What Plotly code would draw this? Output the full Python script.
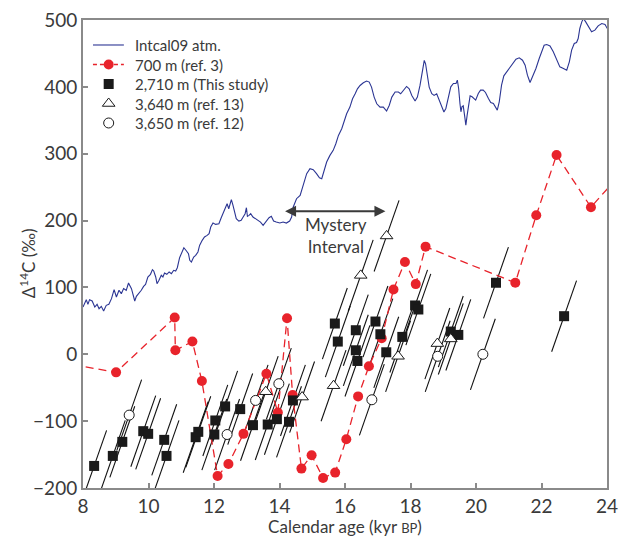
import numpy as np
import plotly.graph_objects as go

# IntCal09 atmospheric Δ14C (calendar age in kyr BP, Δ14C in ‰)
intcal_age = [8.00, 8.10, 8.15, 8.20, 8.28, 8.36, 8.43, 8.49, 8.56, 8.63, 8.71, 8.79, 8.87, 8.95,
              9.02, 9.10, 9.17, 9.24, 9.32, 9.39, 9.48, 9.53, 9.58, 9.63, 9.71, 9.78, 9.85, 9.91,
              9.98, 10.06, 10.12, 10.16, 10.22, 10.26, 10.32, 10.39, 10.44, 10.49, 10.56, 10.63,
              10.70, 10.77, 10.83, 10.88, 10.95, 11.03, 11.08, 11.16, 11.22, 11.26, 11.31, 11.38,
              11.44, 11.51, 11.56, 11.64, 11.71, 11.79, 11.85, 11.90, 11.97, 12.05, 12.15, 12.22,
              12.27, 12.36, 12.40, 12.45, 12.50, 12.53, 12.58, 12.63, 12.68, 12.76, 12.83, 12.89,
              12.95, 12.99, 13.02, 13.07, 13.12, 13.19, 13.27, 13.34, 13.42, 13.50, 13.55, 13.60,
              13.68, 13.75, 13.82, 13.90, 14.01, 14.11, 14.21, 14.31, 14.37, 14.42, 14.52, 14.63,
              14.73, 14.83, 14.93, 15.03, 15.13, 15.22, 15.29, 15.36, 15.44, 15.54, 15.64, 15.72,
              15.80, 15.90, 15.95, 16.05, 16.15, 16.23, 16.31, 16.38, 16.46, 16.56, 16.66, 16.74,
              16.81, 16.89, 16.97, 17.07, 17.17, 17.27, 17.35, 17.43, 17.53, 17.63, 17.70, 17.78,
              17.88, 17.96, 18.04, 18.14, 18.21, 18.29, 18.37, 18.42, 18.46, 18.51, 18.57, 18.65,
              18.72, 18.80, 18.88, 18.95, 19.02, 19.08, 19.15, 19.23, 19.31, 19.39, 19.43, 19.47,
              19.51, 19.54, 19.57, 19.61, 19.65, 19.69, 19.73, 19.78, 19.82, 19.88, 19.94, 19.99,
              20.07, 20.14, 20.22, 20.29, 20.38, 20.45, 20.53, 20.58, 20.65, 20.71, 20.78, 20.85,
              20.94, 21.04, 21.14, 21.22, 21.32, 21.42, 21.50, 21.57, 21.65, 21.73, 21.83, 21.93,
              22.00, 22.08, 22.16, 22.26, 22.36, 22.46, 22.56, 22.67, 22.77, 22.85, 22.92, 23.00,
              23.07, 23.12, 23.17, 23.23, 23.28, 23.35, 23.43, 23.53, 23.63, 23.73, 23.84, 23.94,
              24.02, 24.09]
intcal_d14c = [70.7, 81.7, 74.7, 81.7, 79.7, 70.7, 74.7, 68.2, 71.7, 64.8, 73.2, 74.7, 83.2, 96.7,
               85.7, 95.7, 90.7, 98.2, 95.7, 106.6, 98.2, 90.7, 79.7, 86.7, 90.7, 95.7, 101.6, 104.6,
               115.6, 119.6, 126.6, 124.6, 115.6, 105.6, 110.6, 118.1, 115.6, 121.6, 119.6, 123.1,
               120.6, 125.6, 124.6, 129.5, 144.5, 155.5, 159.4, 154.5, 150.5, 140.5, 138.0, 145.5,
               148.0, 153.0, 162.9, 170.4, 175.4, 177.9, 180.4, 190.3, 196.3, 194.3, 195.3, 204.3,
               210.3, 220.2, 225.2, 217.7, 225.2, 231.2, 222.7, 210.3, 202.8, 199.3, 200.3, 205.3,
               210.3, 219.2, 206.3, 207.8, 210.3, 205.3, 202.8, 200.3, 197.8, 192.8, 196.3, 200.3,
               204.3, 206.3, 199.3, 197.8, 196.3, 197.8, 196.3, 199.3, 205.3, 220.3, 232.7, 237.7,
               255.1, 270.1, 277.6, 276.1, 270.1, 264.1, 262.6, 275.1, 287.5, 297.5, 305.0, 314.9,
               327.4, 337.4, 344.8, 359.8, 369.7, 382.2, 389.7, 397.1, 402.1, 406.1, 408.6, 407.1,
               399.6, 384.7, 374.7, 369.7, 369.7, 363.8, 372.2, 384.7, 392.2, 392.2, 389.7, 394.7,
               400.6, 397.1, 387.2, 378.7, 384.7, 402.1, 424.6, 439.5, 434.5, 414.6, 399.6, 389.7,
               387.2, 389.7, 379.7, 369.7, 362.3, 367.7, 385.1, 400.1, 405.0, 405.0, 410.0, 397.6,
               375.1, 362.7, 370.2, 371.6, 357.7, 342.7, 357.7, 375.1, 386.6, 385.1, 381.6, 380.1,
               390.1, 395.1, 395.1, 391.6, 382.6, 376.6, 375.1, 370.2, 365.2, 377.6, 402.6, 416.5,
               422.5, 430.0, 437.4, 441.4, 443.4, 439.9, 432.4, 417.5, 406.5, 415.0, 427.5, 442.4,
               452.4, 462.3, 463.3, 461.3, 452.4, 439.9, 429.9, 427.5, 424.9, 437.4, 454.9, 464.8,
               466.3, 472.3, 487.3, 497.2, 502.2, 497.2, 489.7, 482.3, 484.8, 491.2, 494.7, 493.2,
               486.3, 482.3]

# 700 m record (ref. 3)
m700_age = [7.3, 9.01, 10.80, 10.82, 11.34, 11.63, 12.11, 12.44, 12.90, 13.60, 13.95, 14.23, 14.40,
            14.67, 14.98, 15.33, 15.70, 16.04, 16.40, 16.73, 17.12, 17.48, 17.83, 18.16, 18.46,
            21.20, 21.84, 22.46, 23.51, 24.6]
m700_d14c = [-12, -27, 55, 6, 19, -40, -182, -164, -119, -29, -87, 54, -61,
             -171, -151, -185, -177, -127, -63, -18, 24, 97, 138, 105, 161,
             107, 208, 298, 220, 280]

# 2,710 m record (this study)
m2710_age = [8.34, 8.91, 9.20, 9.84, 9.99, 10.48, 10.55, 11.44, 11.52, 12.01, 12.04, 12.34,
             12.80, 13.19, 13.64, 13.92, 14.29, 14.41, 15.69, 15.78, 16.33, 16.33, 16.38,
             16.93, 17.08, 17.26, 17.75, 18.14, 18.24, 19.23, 19.46, 20.61, 22.69]
m2710_d14c = [-167, -152, -131, -115, -119, -128, -152, -124, -116, -120, -99, -78,
              -82, -106, -105, -97, -101, -69, 46, 19, 36, 6, -10,
              49, 30, 3, 26, 73, 67, 34, 29, 107, 57]

# 3,640 m record (ref. 13)
m3640_age = [13.58, 14.69, 15.65, 16.48, 17.27, 17.62, 18.82, 19.23]
m3640_d14c = [-56, -64, -47, 118, 177, -3, 16, 23]

# 3,650 m record (ref. 12)
m3650_age = [9.41, 12.40, 13.27, 13.98, 16.82, 18.83, 20.21]
m3650_d14c = [-91, -120, -69, -44, -68, -3, 0]

series_names = ["Intcal09 atm.", "700 m (ref. 3)", "2,710 m (This study)",
                "3,640 m (ref. 13)", "3,650 m (ref. 12)"]

x_ticks = [8, 10, 12, 14, 16, 18, 20, 22, 24]
y_ticks = [-200, -100, 0, 100, 200, 300, 400, 500]
y_tick_text = ["\u2212200", "\u2212100", "0", "100", "200", "300", "400", "500"]

# Lines of constant radiocarbon age through each benthic point
TRAJ_SLOPE = 140.0   # ‰ per kyr
TRAJ_HALF = 0.38     # kyr

def trajectories(ages, vals):
    xs, ys = [], []
    for a, v in zip(ages, vals):
        xs += [a - TRAJ_HALF, a + TRAJ_HALF, None]
        ys += [v - TRAJ_SLOPE * TRAJ_HALF, v + TRAJ_SLOPE * TRAJ_HALF, None]
    return xs, ys

tx, ty = [], []
for ages, vals in [(m2710_age, m2710_d14c), (m3640_age, m3640_d14c), (m3650_age, m3650_d14c)]:
    a, b = trajectories(ages, vals)
    tx += a
    ty += b

FONT = "Lato"
AXIS_GREY = "#8a8a8a"
TEXT = "#3a3a3a"
BLUE = "#2b3593"
RED = "#e8232b"
INK = "#1a1a1a"

intcal_line = dict(color=BLUE, width=1.1)
red_line = dict(color=RED, width=1.3, dash="8px,5px")
red_marker = dict(symbol="circle", size=10, color=RED)
square_marker = dict(symbol="square", size=10, color=INK)
tri_marker = dict(symbol="triangle-up", size=11, color="white", line=dict(color=INK, width=1))
circ_marker = dict(symbol="circle", size=10, color="white", line=dict(color=INK, width=1))

fig = go.Figure()

fig.add_trace(go.Scatter(x=intcal_age, y=intcal_d14c, mode="lines",
                         name=series_names[0], line=intcal_line))
fig.add_trace(go.Scatter(x=tx, y=ty, mode="lines", hoverinfo="skip",
                         line=dict(color="#111111", width=1.1)))
fig.add_trace(go.Scatter(x=m700_age, y=m700_d14c, mode="lines+markers",
                         name=series_names[1], line=red_line, marker=red_marker))
fig.add_trace(go.Scatter(x=m2710_age, y=m2710_d14c, mode="markers",
                         name=series_names[2], marker=square_marker))
fig.add_trace(go.Scatter(x=m3640_age, y=m3640_d14c, mode="markers",
                         name=series_names[3], marker=tri_marker))
fig.add_trace(go.Scatter(x=m3650_age, y=m3650_d14c, mode="markers",
                         name=series_names[4], marker=circ_marker))

# Compact key in the upper-left corner, drawn on an overlay axis spanning [0, 1]
KEY_FONT = 15
KEY_X0, KEY_X1, KEY_XM, KEY_TX = 0.019, 0.078, 0.049, 0.097
KEY_TOP, KEY_STEP = 0.9466, KEY_FONT * 1.3 / 468
key_rows = [KEY_TOP - i * KEY_STEP for i in range(len(series_names))]
fig.add_trace(go.Scatter(x=[KEY_X0, KEY_X1], y=[key_rows[0]] * 2, mode="lines",
                         line=intcal_line, xaxis="x2", yaxis="y2", hoverinfo="skip"))
fig.add_trace(go.Scatter(x=[KEY_X0, KEY_X1], y=[key_rows[1]] * 2, mode="lines",
                         line=dict(color=RED, width=1.3, dash="4px,3px"),
                         xaxis="x2", yaxis="y2", hoverinfo="skip"))
for row, mk in zip(key_rows[1:], [red_marker, square_marker, tri_marker, circ_marker]):
    fig.add_trace(go.Scatter(x=[KEY_XM], y=[row], mode="markers", marker=mk,
                             xaxis="x2", yaxis="y2", hoverinfo="skip"))
fig.add_annotation(x=KEY_TX, y=key_rows[2], xref="x2", yref="y2",
                   text="<br>".join(series_names), showarrow=False, align="left",
                   xanchor="left", yanchor="middle", borderpad=0,
                   font=dict(family=FONT, size=KEY_FONT, color=TEXT))

# Mystery Interval arrow and label
fig.add_annotation(x=14.17, y=214, ax=17.28, ay=214, xref="x", yref="y",
                   axref="x", ayref="y", text="", showarrow=True,
                   arrowhead=2, arrowside="end+start", arrowsize=1.1,
                   arrowwidth=2, arrowcolor="#3a3a3a")
fig.add_annotation(x=15.72, y=177, xref="x", yref="y", showarrow=False,
                   text="Mystery<br>Interval", align="center",
                   font=dict(family=FONT, size=17, color=TEXT))

# Y-axis title
fig.add_annotation(x=-0.107, y=0.48, xref="paper", yref="paper", showarrow=False,
                   xanchor="center", yanchor="middle",
                   text="\u0394<sup>14</sup>C (\u2030)", textangle=-90,
                   font=dict(family=FONT, size=17, color=TEXT))

axis_common = dict(showgrid=False, zeroline=False, showline=True, linecolor=AXIS_GREY,
                   linewidth=2, mirror=True, ticks="inside", ticklen=5, tickwidth=1.5,
                   tickcolor=AXIS_GREY, automargin=False,
                   tickfont=dict(family=FONT, size=19, color=TEXT))

fig.update_xaxes(range=[8, 24], tickvals=x_ticks, ticktext=[str(t) for t in x_ticks],
                 title=dict(text="Calendar age (kyr <span style='font-size:13px'>BP</span>)",
                            font=dict(family=FONT, size=17, color=TEXT), standoff=8),
                 **axis_common)
fig.update_yaxes(range=[-200, 500], tickvals=y_ticks, ticktext=y_tick_text,
                 **axis_common)

fig.update_layout(
    width=630, height=537,
    margin=dict(l=83, r=23, t=20, b=49),
    paper_bgcolor="white", plot_bgcolor="white",
    showlegend=False,
    xaxis2=dict(overlaying="x", range=[0, 1], visible=False, fixedrange=True),
    yaxis2=dict(overlaying="y", range=[0, 1], visible=False, fixedrange=True),
)

fig.write_html("out.html")
